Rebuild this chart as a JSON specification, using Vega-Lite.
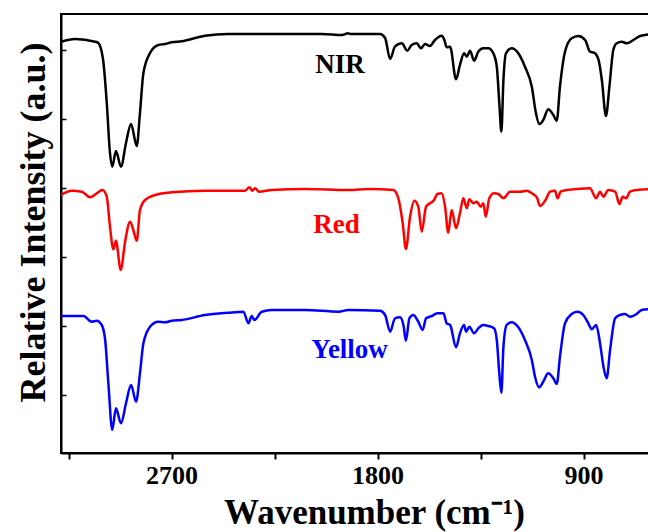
{
  "$schema": "https://vega.github.io/schema/vega-lite/v6.json",
  "width": 588,
  "height": 439,
  "autosize": "none",
  "padding": {"left": 61, "top": 14, "right": 0, "bottom": 79},
  "background": "white",
  "config": {
    "view": {"stroke": "black", "strokeWidth": 2},
    "font": "Liberation Serif"
  },
  "datasets": {
    "spectra": [
      {"series":"NIR","wn":3183,"v":4.113},{"series":"NIR","wn":3122,"v":4.14},{"series":"NIR","wn":3034,"v":4.113},{"series":"NIR","wn":3020,"v":4.10},{"series":"NIR","wn":2999,"v":3.93},{"series":"NIR","wn":2983,"v":3.50},{"series":"NIR","wn":2969,"v":3.00},{"series":"NIR","wn":2959,"v":2.863},{"series":"NIR","wn":2943,"v":3.02},{"series":"NIR","wn":2921,"v":2.863},{"series":"NIR","wn":2899,"v":3.10},{"series":"NIR","wn":2877,"v":3.29},{"series":"NIR","wn":2852,"v":3.07},{"series":"NIR","wn":2838,"v":3.40},{"series":"NIR","wn":2823,"v":3.80},{"series":"NIR","wn":2794,"v":4.00},{"series":"NIR","wn":2758,"v":4.08},{"series":"NIR","wn":2728,"v":4.09},{"series":"NIR","wn":2699,"v":4.107},{"series":"NIR","wn":2656,"v":4.117},{"series":"NIR","wn":2554,"v":4.173},{"series":"NIR","wn":2453,"v":4.19},{"series":"NIR","wn":2335,"v":4.19},{"series":"NIR","wn":2191,"v":4.19},{"series":"NIR","wn":2043,"v":4.19},{"series":"NIR","wn":1955,"v":4.18},{"series":"NIR","wn":1929,"v":4.197},{"series":"NIR","wn":1920,"v":4.19},{"series":"NIR","wn":1789,"v":4.19},{"series":"NIR","wn":1767,"v":4.15},{"series":"NIR","wn":1745,"v":3.94},{"series":"NIR","wn":1724,"v":4.063},{"series":"NIR","wn":1694,"v":4.097},{"series":"NIR","wn":1670,"v":4.023},{"series":"NIR","wn":1651,"v":4.08},{"series":"NIR","wn":1629,"v":4.097},{"series":"NIR","wn":1610,"v":4.047},{"series":"NIR","wn":1593,"v":4.09},{"series":"NIR","wn":1571,"v":4.07},{"series":"NIR","wn":1549,"v":4.13},{"series":"NIR","wn":1520,"v":4.173},{"series":"NIR","wn":1508,"v":4.13},{"series":"NIR","wn":1498,"v":4.057},{"series":"NIR","wn":1483,"v":4.063},{"series":"NIR","wn":1457,"v":3.737},{"series":"NIR","wn":1440,"v":3.88},{"series":"NIR","wn":1422,"v":3.997},{"series":"NIR","wn":1410,"v":3.963},{"series":"NIR","wn":1396,"v":4.023},{"series":"NIR","wn":1378,"v":3.923},{"series":"NIR","wn":1360,"v":4.013},{"series":"NIR","wn":1338,"v":4.047},{"series":"NIR","wn":1316,"v":4.047},{"series":"NIR","wn":1294,"v":3.997},{"series":"NIR","wn":1279,"v":3.863},{"series":"NIR","wn":1268,"v":3.50},{"series":"NIR","wn":1259,"v":3.213},{"series":"NIR","wn":1250,"v":3.73},{"series":"NIR","wn":1239,"v":3.997},{"series":"NIR","wn":1214,"v":4.047},{"series":"NIR","wn":1185,"v":3.997},{"series":"NIR","wn":1156,"v":3.863},{"series":"NIR","wn":1126,"v":3.663},{"series":"NIR","wn":1108,"v":3.40},{"series":"NIR","wn":1093,"v":3.29},{"series":"NIR","wn":1076,"v":3.33},{"series":"NIR","wn":1054,"v":3.437},{"series":"NIR","wn":1032,"v":3.38},{"series":"NIR","wn":1017,"v":3.323},{"series":"NIR","wn":1003,"v":3.663},{"series":"NIR","wn":981,"v":4.013},{"series":"NIR","wn":952,"v":4.147},{"series":"NIR","wn":923,"v":4.17},{"series":"NIR","wn":893,"v":4.13},{"series":"NIR","wn":872,"v":4.013},{"series":"NIR","wn":854,"v":4.003},{"series":"NIR","wn":835,"v":3.937},{"series":"NIR","wn":820,"v":3.73},{"series":"NIR","wn":802,"v":3.37},{"series":"NIR","wn":787,"v":3.663},{"series":"NIR","wn":770,"v":4.03},{"series":"NIR","wn":755,"v":4.097},{"series":"NIR","wn":733,"v":4.113},{"series":"NIR","wn":711,"v":4.097},{"series":"NIR","wn":682,"v":4.13},{"series":"NIR","wn":653,"v":4.17},{"series":"NIR","wn":614,"v":4.187},
      {"series":"Red","wn":3183,"v":2.58},{"series":"Red","wn":3136,"v":2.623},{"series":"Red","wn":3092,"v":2.613},{"series":"Red","wn":3056,"v":2.557},{"series":"Red","wn":3027,"v":2.597},{"series":"Red","wn":3002,"v":2.63},{"series":"Red","wn":2983,"v":2.563},{"series":"Red","wn":2969,"v":2.263},{"series":"Red","wn":2954,"v":2.037},{"series":"Red","wn":2943,"v":2.123},{"series":"Red","wn":2922,"v":1.83},{"series":"Red","wn":2903,"v":2.113},{"series":"Red","wn":2881,"v":2.313},{"series":"Red","wn":2867,"v":2.23},{"series":"Red","wn":2852,"v":2.123},{"series":"Red","wn":2838,"v":2.43},{"series":"Red","wn":2816,"v":2.53},{"series":"Red","wn":2772,"v":2.58},{"series":"Red","wn":2699,"v":2.607},{"series":"Red","wn":2554,"v":2.623},{"series":"Red","wn":2379,"v":2.623},{"series":"Red","wn":2360,"v":2.657},{"series":"Red","wn":2347,"v":2.623},{"series":"Red","wn":2335,"v":2.647},{"series":"Red","wn":2318,"v":2.613},{"series":"Red","wn":2262,"v":2.63},{"series":"Red","wn":2117,"v":2.64},{"series":"Red","wn":1928,"v":2.63},{"series":"Red","wn":1833,"v":2.64},{"series":"Red","wn":1731,"v":2.63},{"series":"Red","wn":1709,"v":2.547},{"series":"Red","wn":1690,"v":2.297},{"series":"Red","wn":1676,"v":2.04},{"series":"Red","wn":1658,"v":2.363},{"series":"Red","wn":1639,"v":2.523},{"series":"Red","wn":1622,"v":2.463},{"series":"Red","wn":1607,"v":2.213},{"series":"Red","wn":1588,"v":2.463},{"series":"Red","wn":1571,"v":2.497},{"series":"Red","wn":1553,"v":2.53},{"series":"Red","wn":1539,"v":2.59},{"series":"Red","wn":1520,"v":2.597},{"series":"Red","wn":1505,"v":2.463},{"series":"Red","wn":1491,"v":2.203},{"series":"Red","wn":1476,"v":2.43},{"series":"Red","wn":1457,"v":2.247},{"series":"Red","wn":1440,"v":2.397},{"series":"Red","wn":1425,"v":2.547},{"series":"Red","wn":1410,"v":2.447},{"series":"Red","wn":1399,"v":2.537},{"series":"Red","wn":1381,"v":2.497},{"series":"Red","wn":1367,"v":2.513},{"series":"Red","wn":1349,"v":2.463},{"series":"Red","wn":1338,"v":2.497},{"series":"Red","wn":1327,"v":2.363},{"series":"Red","wn":1312,"v":2.547},{"series":"Red","wn":1291,"v":2.597},{"series":"Red","wn":1272,"v":2.59},{"series":"Red","wn":1250,"v":2.547},{"series":"Red","wn":1221,"v":2.613},{"series":"Red","wn":1177,"v":2.613},{"series":"Red","wn":1148,"v":2.623},{"series":"Red","wn":1126,"v":2.597},{"series":"Red","wn":1104,"v":2.557},{"series":"Red","wn":1090,"v":2.47},{"series":"Red","wn":1068,"v":2.523},{"series":"Red","wn":1046,"v":2.613},{"series":"Red","wn":1024,"v":2.623},{"series":"Red","wn":1014,"v":2.547},{"series":"Red","wn":1000,"v":2.613},{"series":"Red","wn":973,"v":2.63},{"series":"Red","wn":930,"v":2.64},{"series":"Red","wn":872,"v":2.647},{"series":"Red","wn":845,"v":2.547},{"series":"Red","wn":828,"v":2.613},{"series":"Red","wn":813,"v":2.563},{"series":"Red","wn":792,"v":2.63},{"series":"Red","wn":762,"v":2.613},{"series":"Red","wn":743,"v":2.49},{"series":"Red","wn":729,"v":2.563},{"series":"Red","wn":714,"v":2.547},{"series":"Red","wn":697,"v":2.613},{"series":"Red","wn":668,"v":2.63},{"series":"Red","wn":614,"v":2.637},
      {"series":"Yellow","wn":3183,"v":1.37},{"series":"Yellow","wn":3085,"v":1.37},{"series":"Yellow","wn":3049,"v":1.313},{"series":"Yellow","wn":3027,"v":1.323},{"series":"Yellow","wn":3005,"v":1.28},{"series":"Yellow","wn":2990,"v":1.13},{"series":"Yellow","wn":2976,"v":0.697},{"series":"Yellow","wn":2959,"v":0.23},{"series":"Yellow","wn":2943,"v":0.447},{"series":"Yellow","wn":2921,"v":0.297},{"series":"Yellow","wn":2899,"v":0.497},{"series":"Yellow","wn":2877,"v":0.68},{"series":"Yellow","wn":2855,"v":0.513},{"series":"Yellow","wn":2838,"v":0.797},{"series":"Yellow","wn":2823,"v":1.097},{"series":"Yellow","wn":2794,"v":1.263},{"series":"Yellow","wn":2758,"v":1.313},{"series":"Yellow","wn":2728,"v":1.307},{"series":"Yellow","wn":2699,"v":1.323},{"series":"Yellow","wn":2656,"v":1.33},{"series":"Yellow","wn":2554,"v":1.38},{"series":"Yellow","wn":2453,"v":1.403},{"series":"Yellow","wn":2386,"v":1.413},{"series":"Yellow","wn":2364,"v":1.297},{"series":"Yellow","wn":2350,"v":1.37},{"series":"Yellow","wn":2338,"v":1.33},{"series":"Yellow","wn":2306,"v":1.413},{"series":"Yellow","wn":2262,"v":1.43},{"series":"Yellow","wn":2117,"v":1.43},{"series":"Yellow","wn":1971,"v":1.413},{"series":"Yellow","wn":1928,"v":1.43},{"series":"Yellow","wn":1789,"v":1.423},{"series":"Yellow","wn":1767,"v":1.38},{"series":"Yellow","wn":1745,"v":1.213},{"series":"Yellow","wn":1724,"v":1.347},{"series":"Yellow","wn":1702,"v":1.357},{"series":"Yellow","wn":1687,"v":1.28},{"series":"Yellow","wn":1676,"v":1.123},{"series":"Yellow","wn":1661,"v":1.347},{"series":"Yellow","wn":1644,"v":1.38},{"series":"Yellow","wn":1622,"v":1.313},{"series":"Yellow","wn":1603,"v":1.23},{"series":"Yellow","wn":1588,"v":1.347},{"series":"Yellow","wn":1563,"v":1.37},{"series":"Yellow","wn":1539,"v":1.397},{"series":"Yellow","wn":1512,"v":1.397},{"series":"Yellow","wn":1498,"v":1.297},{"series":"Yellow","wn":1483,"v":1.28},{"series":"Yellow","wn":1457,"v":1.057},{"series":"Yellow","wn":1440,"v":1.197},{"series":"Yellow","wn":1422,"v":1.28},{"series":"Yellow","wn":1413,"v":1.213},{"series":"Yellow","wn":1399,"v":1.263},{"series":"Yellow","wn":1378,"v":1.197},{"series":"Yellow","wn":1360,"v":1.247},{"series":"Yellow","wn":1338,"v":1.28},{"series":"Yellow","wn":1316,"v":1.27},{"series":"Yellow","wn":1291,"v":1.247},{"series":"Yellow","wn":1279,"v":1.13},{"series":"Yellow","wn":1268,"v":0.797},{"series":"Yellow","wn":1259,"v":0.603},{"series":"Yellow","wn":1250,"v":1.063},{"series":"Yellow","wn":1236,"v":1.28},{"series":"Yellow","wn":1214,"v":1.307},{"series":"Yellow","wn":1185,"v":1.257},{"series":"Yellow","wn":1156,"v":1.13},{"series":"Yellow","wn":1126,"v":0.93},{"series":"Yellow","wn":1112,"v":0.763},{"series":"Yellow","wn":1094,"v":0.657},{"series":"Yellow","wn":1076,"v":0.713},{"series":"Yellow","wn":1054,"v":0.797},{"series":"Yellow","wn":1032,"v":0.747},{"series":"Yellow","wn":1017,"v":0.69},{"series":"Yellow","wn":1003,"v":0.963},{"series":"Yellow","wn":981,"v":1.297},{"series":"Yellow","wn":952,"v":1.39},{"series":"Yellow","wn":927,"v":1.413},{"series":"Yellow","wn":901,"v":1.38},{"series":"Yellow","wn":879,"v":1.297},{"series":"Yellow","wn":864,"v":1.237},{"series":"Yellow","wn":845,"v":1.28},{"series":"Yellow","wn":828,"v":1.097},{"series":"Yellow","wn":813,"v":0.863},{"series":"Yellow","wn":799,"v":0.747},{"series":"Yellow","wn":784,"v":1.03},{"series":"Yellow","wn":762,"v":1.347},{"series":"Yellow","wn":741,"v":1.38},{"series":"Yellow","wn":719,"v":1.39},{"series":"Yellow","wn":697,"v":1.363},{"series":"Yellow","wn":668,"v":1.39},{"series":"Yellow","wn":646,"v":1.43},{"series":"Yellow","wn":614,"v":1.437}
    ],
    "labels": [
      {"series":"NIR","wn":1964,"v":3.80},
      {"series":"Red","wn":1979,"v":2.20},
      {"series":"Yellow","wn":1922,"v":0.95}
    ]
  },
  "encoding": {
    "x": {
      "field": "wn", "type": "quantitative",
      "scale": {"domain": [3183, 614], "nice": false, "zero": false},
      "axis": {
        "values": [3150, 2700, 2250, 1800, 1350, 900],
        "labelExpr": "datum.value % 900 == 0 ? datum.label : ''",
        "format": "d",
        "grid": false,
        "domainColor": "black", "domainWidth": 2,
        "tickColor": "black", "tickWidth": 2, "tickSize": 6,
        "labelFont": "Liberation Serif", "labelFontSize": 26, "labelFontWeight": "bold", "labelColor": "black",
        "labelPadding": 3,
        "title": "Wavenumber (cm⁻¹)",
        "titleFont": "Liberation Serif", "titleFontSize": 35, "titleFontWeight": "bold", "titleColor": "black",
        "titleBaseline": "alphabetic",
        "titleX": 313, "titleY": 70
      }
    },
    "y": {
      "field": "v", "type": "quantitative",
      "scale": {"domain": [0, 4.39], "nice": false, "zero": false},
      "axis": {
        "values": [0.58, 1.27, 1.96, 2.65, 3.34, 4.03],
        "labels": false,
        "grid": false,
        "domainColor": "black", "domainWidth": 2,
        "tickColor": "black", "tickWidth": 1.5, "tickSize": -5,
        "title": "Relative Intensity (a.u.)",
        "titleFont": "Liberation Serif", "titleFontSize": 36, "titleFontWeight": "bold", "titleColor": "black",
        "titleAngle": -90,
        "titleBaseline": "alphabetic",
        "titleX": -17, "titleY": 208
      }
    },
    "color": {
      "field": "series", "type": "nominal",
      "scale": {"domain": ["NIR", "Red", "Yellow"], "range": ["#000000", "#ff0000", "#0000ff"]},
      "legend": null
    }
  },
  "layer": [
    {
      "data": {"name": "spectra"},
      "mark": {"type": "line", "strokeWidth": 2.5, "interpolate": "monotone", "clip": true}
    },
    {
      "data": {"name": "labels"},
      "mark": {"type": "text", "font": "Liberation Serif", "fontSize": 27, "fontWeight": "bold", "align": "center", "baseline": "alphabetic"},
      "encoding": {"text": {"field": "series"}}
    }
  ]
}
